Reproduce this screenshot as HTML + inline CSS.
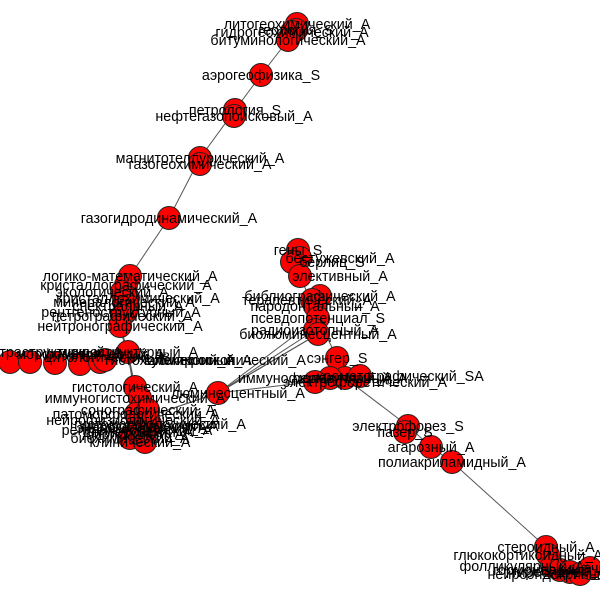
<!DOCTYPE html>
<html><head><meta charset="utf-8">
<style>
html,body{margin:0;padding:0;background:#fff;}
svg{display:block;}
text{font-family:"Liberation Sans","DejaVu Sans",sans-serif;font-size:14.3px;fill:#000;text-anchor:middle;}
</style></head>
<body>
<svg id="g" width="600" height="600"></svg>
<script>
const nodeNames=["литогеохимический_A","геология_S","гидрогеохимический_A","битуминологический_A","аэрогеофизика_S","петрология_S","нефтегазопоисковый_A","магнитотеллурический_A","газогеохимический_A","газогидродинамический_A",
"логико-математический_A","кристаллографический_A","экологический_A","кристаллохимический_A","минералогический_A","спектральный_A","рентгеноструктурный_A","петрографический_A","нейтронографический_A","микроструктурный_A",
"ультраструктурный_A","морфометрический_A","цитологический_A","гистохимический_A","электронный_A","субмикроскопический_A","гистологический_A","иммуногистохимический_A","нейрофизиологический_A","рентгенологический_A","биохимический_A","клинический_A","морфологический_A","биопсийный_A",
"люминесцентный_A","гены_S","бестужевский_A","берлиц_S","элективный_A","библиографический_A","терапевтический_A","пародонтальный_A","псевдопотенциал_S","радиоизотопный_A","биолюминесцентный_A","сэнгер_S",
"иммуноферментный_A","молекулярный_A","электрофоретический_A","хроматографический_SA","электрофорез_S","пазер_S","агарозный_A","полиакриламидный_A",
"стероидный_A","глюкокортикоидный_A","фолликулярный_A","гормональный_A","тиреоидный_A","нейроэндокринный_A","кишечный_A",
"патоморфологический_A","гистоморфологический_A","эндоскопический_A","сонографический_A","доплеровский_A"];
const nodeX=[297,296,292,288,261,235,234,200,200,169, 130,126,122,128,124,128,126,122,120,128, 10,30,55,80,100,105, 135,140,138,142,130,145,150,140, 218,298,300,292,300,320,312,315,318,315,318,337, 345,330,315,360,408,405,431,452, 546,548,552,560,570,580,590, 136,150,142,148,138];
const nodeY=[24,30,32,40,75,110,116,158,164,218, 276,285,292,298,302,306,312,316,326,352, 362,362,363,364,362,360, 387,398,420,430,438,442,426,434, 393,250,258,262,276,296,300,306,318,330,334,358, 378,378,382,376,426,432,447,462, 547,555,566,570,572,574,568, 414,424,428,410,432];
const labelDx=[0,0,0,0,0,0,0,0,0,0, 0,0,-10,10,0,0,-5,0,0,0, 40,60,50,90,100,120, 0,-5,-5,-5,0,-5,0,-5, 20,0,40,40,40,0,-5,0,0,0,0,0, -30,20,50,40,0,0,0,0, 0,-20,-30,-10,-10,-20,10, 0,10,0,0,0];
const labelDy=[0,0,0,0,0,0,0,0,0,0, 0,0,0,0,0,0,0,0,0,0, -10,-8,-6,-4,-2,0, 0,0,0,0,0,0,0,0, 0,0,0,0,0,0,0,0,0,0,0,0, 0,0,0,0,0,0,0,0, 0,0,0,0,0,0,0, 0,0,0,0,0];
const edgeFrom=[0,3,4,5,7,9,10,18,18,19,19,26,28,34,34,34,42,45,46,50,52,53,35,38,44,44,34,34];
const edgeTo=  [3,4,5,7,9,10,18,19,26,26,28,28,34,44,43,42,45,46,50,52,53,54,38,42,34,34,46,28];
const svg=document.getElementById('g');
const NS='http://www.w3.org/2000/svg';
for(let i=0;i<edgeFrom.length;i++){
  const l=document.createElementNS(NS,'line');
  l.setAttribute('x1',nodeX[edgeFrom[i]]);l.setAttribute('y1',nodeY[edgeFrom[i]]);
  l.setAttribute('x2',nodeX[edgeTo[i]]);l.setAttribute('y2',nodeY[edgeTo[i]]);
  l.setAttribute('stroke','#555');l.setAttribute('stroke-width','1');
  
  
  svg.appendChild(l);
}
for(let i=0;i<nodeX.length;i++){
  const c=document.createElementNS(NS,'circle');
  c.setAttribute('cx',nodeX[i]);c.setAttribute('cy',nodeY[i]);c.setAttribute('r',11.5);
  c.setAttribute('fill','#f00');c.setAttribute('stroke','#222');c.setAttribute('stroke-width','1');
  
  
  svg.appendChild(c);
}
for(let i=0;i<nodeX.length;i++){
  const t=document.createElementNS(NS,'text');
  t.setAttribute('x',nodeX[i]+labelDx[i]);t.setAttribute('y',nodeY[i]+labelDy[i]+5);
  t.textContent=nodeNames[i];
  
  
  svg.appendChild(t);
}
</script>
</body></html>
